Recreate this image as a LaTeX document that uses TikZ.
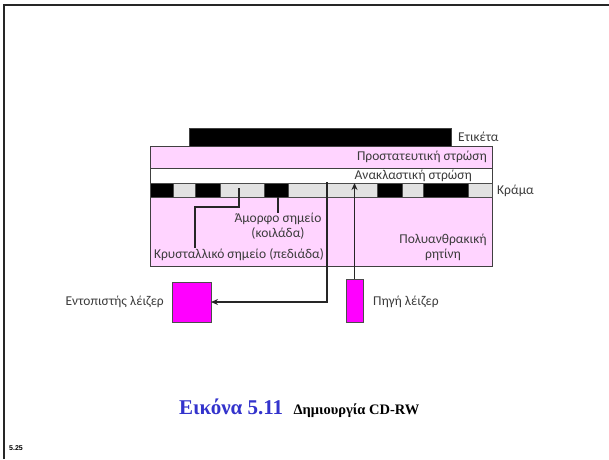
\documentclass[tikz,border=0pt]{standalone}
\usepackage{fontspec}
\setmainfont{Carlito}
\newfontfamily\capfont{Liberation Serif}
\newfontfamily\smallsans{Liberation Sans}
\usetikzlibrary{arrows.meta}
\definecolor{pinkfill}{RGB}{255,212,255}
\definecolor{segray}{RGB}{226,226,226}
\definecolor{txt}{RGB}{60,60,60}
\definecolor{capblue}{RGB}{51,51,204}
\definecolor{lasermag}{RGB}{255,0,255}
\tikzset{
  layer/.style={draw=black!75, line width=0.9pt, inner sep=0pt, outer sep=0pt, anchor=north west},
  seg/.style={draw=black!70, line width=0.6pt, inner sep=0pt, outer sep=0pt, anchor=north west, minimum height=14pt},
  lbl/.style={text=txt, font=\fontsize{13.5}{15}\selectfont, inner sep=0pt},
  conn/.style={line width=1.4pt, black!85},
  arr/.style={conn, -{Stealth[length=7pt,width=6pt]}},
  laser/.style={draw=black!70, line width=0.9pt, fill=lasermag, inner sep=0pt, outer sep=0pt}
}
\begin{document}
\begin{tikzpicture}[x=1pt,y=-1pt]
\useasboundingbox (0,0) rectangle (609,459);
% frame
\draw[line width=2.5pt, black!85] (4,459) -- (4,5) -- (609,5);
% layers
\node[layer, fill=black, minimum width=262pt, minimum height=18pt] (label) at (189,128) {};
\node[layer, fill=pinkfill, minimum width=342pt, minimum height=22pt] (prot) at (150,146) {};
\node[layer, fill=white, minimum width=342pt, minimum height=15pt] (refl) at (150,168) {};
\node[layer, fill=pinkfill, minimum width=342pt, minimum height=69pt] (poly) at (150,197) {};
% alloy segments
\node[seg, fill=black, minimum width=23pt] (s1) at (150,183) {};
\node[seg, fill=segray, minimum width=22pt] (s2) at (173,183) {};
\node[seg, fill=black, minimum width=25pt] (s3) at (195,183) {};
\node[seg, fill=segray, minimum width=44pt] (s4) at (220,183) {};
\node[seg, fill=black, minimum width=24pt] (s5) at (264,183) {};
\node[seg, fill=segray, minimum width=89pt] (s6) at (288,183) {};
\node[seg, fill=black, minimum width=25pt] (s7) at (377,183) {};
\node[seg, fill=segray, minimum width=21pt] (s8) at (402,183) {};
\node[seg, fill=black, minimum width=45pt] (s9) at (423,183) {};
\node[seg, fill=segray, minimum width=24pt] (s10) at (468,183) {};
% texts
\node[lbl, anchor=west] (tlabel) at (458,137) {Ετικέτα};
\node[lbl, anchor=east] (tprot) at (487,157) {Προστατευτική στρώση};
\node[lbl, anchor=east] (trefl) at (472,175.5) {Ανακλαστική στρώση};
\node[lbl, anchor=west] (talloy) at (497,191) {Κράμα};
\node[lbl, align=center, anchor=north] (tpoly) at (443,234) {Πολυανθρακική\\ρητίνη};
\node[lbl, align=center, anchor=north] (tamorph) at (278,213) {Άμορφο σημείο\\(κοιλάδα)};
\node[lbl, anchor=north] (tcryst) at (239,248) {Κρυσταλλικό σημείο (πεδιάδα)};
% lasers
\node[laser, minimum width=39pt, minimum height=40pt, anchor=north west] (det) at (172,282) {};
\node[laser, minimum width=17pt, minimum height=43pt, anchor=north west] (src) at (346,279) {};
\node[lbl, anchor=east] (tdet) at (164,302) {Εντοπιστής λέιζερ};
\node[lbl, anchor=west] (tsrc) at (373,302) {Πηγή λέιζερ};
% markers
\coordinate (cstart) at (239,188);
\coordinate (cbend) at (195,207);
\draw[conn] (cstart) |- (cbend) -- (cbend |- tcryst.north);
\draw[conn] (tamorph.north |- poly.north) -- (tamorph.north);
% beams
\draw[arr] (src.north) -- (src.north |- refl.south);
\coordinate (rstart) at (327,182);
\draw[arr] (rstart) |- (det.east);
% caption
\node[inner sep=0pt, anchor=base west] (capa) at (179,414) {\capfont\bfseries\fontsize{21}{24}\selectfont\color{capblue}Εικόνα 5.11};
\node[inner sep=0pt, anchor=base west] (capb) at ([xshift=10pt]capa.base east) {\capfont\bfseries\fontsize{14.5}{17}\selectfont Δημιουργία CD-RW};
\node[inner sep=0pt, anchor=base west] (pg) at (9,450) {\smallsans\bfseries\fontsize{7}{8}\selectfont 5.25};
\end{tikzpicture}
\end{document}
